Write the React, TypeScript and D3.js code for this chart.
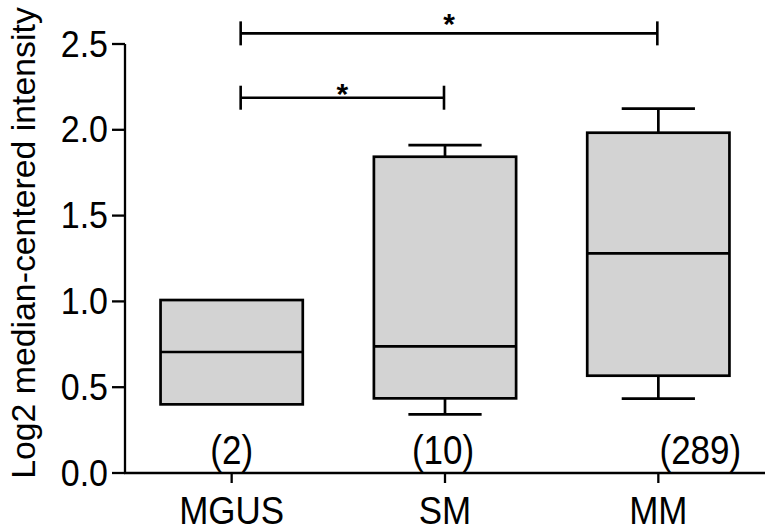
import React from "react";
import * as d3 from "d3";

// ---- data ----
const categories = ["MGUS", "SM", "MM"];
const nLabels = ["(2)", "(10)", "(289)"];
const whiskerLow = [0.4, 0.342, 0.433];
const q1 = [0.4, 0.435, 0.567];
const median = [0.705, 0.738, 1.28];
const q3 = [1.008, 1.843, 1.983];
const whiskerHigh = [1.008, 1.911, 2.123];
const yTicks = [0, 0.5, 1.0, 1.5, 2.0, 2.5];
const brackets = [
  { from: "MGUS", to: "MM", level: 2.562, label: "*" },
  { from: "MGUS", to: "SM", level: 2.187, label: "*" },
];
const yTitle = "Log2 median-centered intensity";

// ---- layout ----
const W = 776;
const H = 532;
const FONT = "'Liberation Sans', Arial, Helvetica, sans-serif";
const nLabelDx = [0, -2, 42];

export default function App() {
  const x = d3.scaleBand<string>().domain(categories).range([125, 765]).padding(0);
  const y = d3.scaleLinear().domain([0, 2.5]).range([473, 44]);
  const bw = x.bandwidth();
  const boxW = bw * (2 / 3);
  const capW = boxW * 0.515;
  const cx = (c: string) => (x(c) as number) + bw / 2;
  const fmt = d3.format(".1f");
  const sw = 2.7;

  return (
    <svg
      width={W}
      height={H}
      style={{ position: "absolute", left: 0, top: 0, background: "#fff" }}
      fontFamily={FONT}
    >
      {/* boxes */}
      {categories.map((c, i) => {
        const xc = cx(c);
        const x0 = xc - boxW / 2;
        return (
          <g key={c} stroke="#000" strokeWidth={sw} fill="none">
            {whiskerHigh[i] > q3[i] && (
              <>
                <line x1={xc} x2={xc} y1={y(q3[i])} y2={y(whiskerHigh[i])} />
                <line x1={xc - capW / 2} x2={xc + capW / 2} y1={y(whiskerHigh[i])} y2={y(whiskerHigh[i])} />
              </>
            )}
            {whiskerLow[i] < q1[i] && (
              <>
                <line x1={xc} x2={xc} y1={y(q1[i])} y2={y(whiskerLow[i])} />
                <line x1={xc - capW / 2} x2={xc + capW / 2} y1={y(whiskerLow[i])} y2={y(whiskerLow[i])} />
              </>
            )}
            <rect
              x={x0}
              y={y(q3[i])}
              width={boxW}
              height={y(q1[i]) - y(q3[i])}
              fill="#d3d3d3"
            />
            <line x1={x0} x2={x0 + boxW} y1={y(median[i])} y2={y(median[i])} />
          </g>
        );
      })}

      {/* n labels */}
      {categories.map((c, i) => (
        <text
          key={"n" + c}
          transform={`translate(${cx(c) + nLabelDx[i]}, 464) scale(1, 1.14)`}
          textAnchor="middle"
          fontSize={35}
          fill="#000"
        >
          {nLabels[i]}
        </text>
      ))}

      {/* y axis */}
      <line x1={125} x2={125} y1={y(2.5)} y2={y(0) + 1} stroke="#000" strokeWidth={2.3} />
      {yTicks.map((t) => (
        <g key={t}>
          <line x1={112} x2={125} y1={y(t)} y2={y(t)} stroke="#000" strokeWidth={2.3} />
          <text
            transform={`translate(108, ${y(t) + 12.5}) scale(1, 1.06)`}
            textAnchor="end"
            fontSize={34}
            fill="#000"
          >
            {fmt(t)}
          </text>
        </g>
      ))}

      {/* x axis */}
      <line x1={124} x2={765} y1={y(0)} y2={y(0)} stroke="#000" strokeWidth={2.3} />
      {categories.map((c) => (
        <g key={"x" + c}>
          <line x1={cx(c)} x2={cx(c)} y1={y(0)} y2={y(0) + 10} stroke="#000" strokeWidth={2.3} />
          <text
            transform={`translate(${cx(c)}, 524) scale(1, 1.12)`}
            textAnchor="middle"
            fontSize={35}
            fill="#000"
          >
            {c}
          </text>
        </g>
      ))}

      {/* y title */}
      <text
        transform={`translate(35, 243) rotate(-90)`}
        textAnchor="middle"
        fontSize={33.8}
        fill="#000"
      >
        {yTitle}
      </text>

      {/* significance brackets */}
      {brackets.map((b, i) => {
        const x1 = cx(b.from) + 9;
        const x2 = cx(b.to) - 1;
        const yy = y(b.level);
        return (
          <g key={"b" + i} stroke="#000" strokeWidth={2.6}>
            <line x1={x1} x2={x2} y1={yy} y2={yy} />
            <line x1={x1} x2={x1} y1={yy - 12} y2={yy + 12} />
            <line x1={x2} x2={x2} y1={yy - 12} y2={yy + 12} />
            <text
              x={(x1 + x2) / 2}
              y={i === 0 ? yy + 1 : yy + 6}
              textAnchor="middle"
              fontSize={30}
              fontWeight="bold"
              stroke="none"
              fill="#000"
            >
              {b.label}
            </text>
          </g>
        );
      })}
    </svg>
  );
}
